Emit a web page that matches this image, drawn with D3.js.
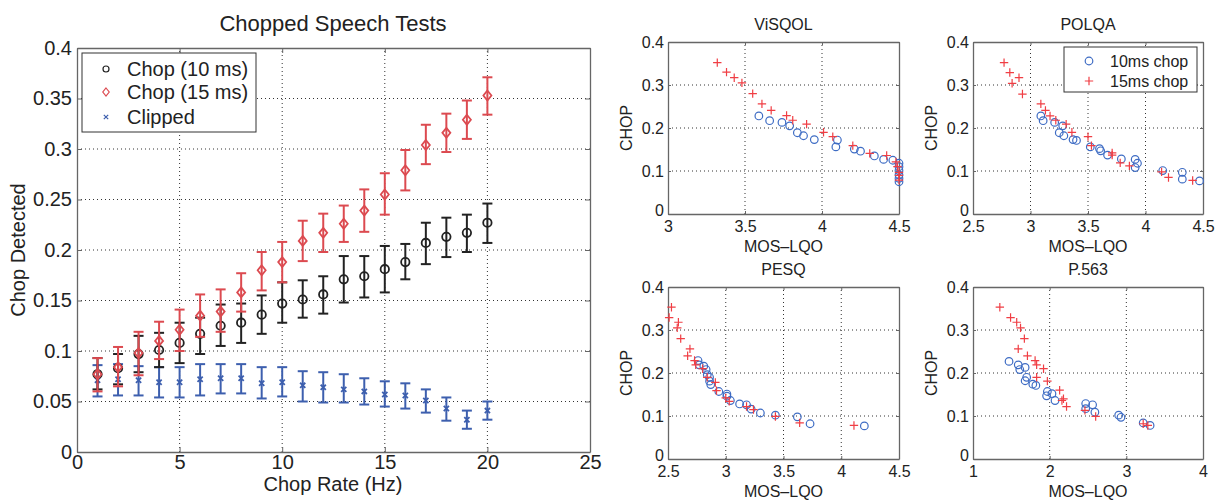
<!DOCTYPE html>
<html><head><meta charset="utf-8">
<script src="https://cdn.jsdelivr.net/npm/d3@7"></script>
<style>
body{margin:0;background:#fff}
text{font-family:"Liberation Sans",Arial,Helvetica,sans-serif;fill:#222}
</style>
</head><body>
<svg id="c" width="1220" height="500"></svg>
<script>
// ---------- main panel data ----------
const chopRate = [1,2,3,4,5,6,7,8,9,10,11,12,13,14,15,16,17,18,19,20];
const chop10   = [0.077,0.083,0.097,0.101,0.108,0.117,0.125,0.128,0.136,0.147,0.151,0.156,0.171,0.174,0.181,0.188,0.207,0.213,0.217,0.227];
const chop10Hi = [0.093,0.097,0.115,0.118,0.128,0.133,0.146,0.147,0.155,0.168,0.170,0.174,0.194,0.194,0.204,0.206,0.227,0.232,0.235,0.246];
const chop10Lo = [0.062,0.067,0.079,0.084,0.088,0.097,0.105,0.108,0.117,0.128,0.133,0.137,0.148,0.153,0.158,0.171,0.186,0.193,0.198,0.207];
const chop15   = [0.077,0.084,0.098,0.110,0.121,0.135,0.139,0.158,0.180,0.188,0.209,0.217,0.226,0.239,0.255,0.279,0.304,0.316,0.329,0.353];
const chop15Hi = [0.093,0.104,0.119,0.129,0.141,0.156,0.161,0.177,0.198,0.208,0.229,0.236,0.244,0.260,0.276,0.299,0.324,0.335,0.348,0.371];
const chop15Lo = [0.060,0.065,0.076,0.092,0.100,0.114,0.119,0.139,0.160,0.168,0.189,0.198,0.208,0.218,0.235,0.259,0.285,0.297,0.310,0.334];
const clipped   = [0.071,0.072,0.071,0.069,0.069,0.072,0.073,0.073,0.068,0.069,0.066,0.064,0.062,0.060,0.057,0.056,0.051,0.043,0.032,0.041];
const clippedHi = [0.086,0.087,0.085,0.084,0.084,0.087,0.087,0.087,0.084,0.084,0.080,0.079,0.077,0.073,0.070,0.068,0.062,0.054,0.041,0.050];
const clippedLo = [0.055,0.056,0.056,0.054,0.054,0.056,0.058,0.058,0.053,0.055,0.050,0.049,0.049,0.047,0.045,0.043,0.039,0.031,0.023,0.032];
const mainXTicks = [0,5,10,15,20,25];
const mainYTicks = [0,0.05,0.1,0.15,0.2,0.25,0.3,0.35,0.4];
const mainLegend = ["Chop (10 ms)","Chop (15 ms)","Clipped"];

// ---------- scatter panels data ----------
const visqolMos10  = [3.59,3.66,3.74,3.79,3.84,3.88,3.95,4.10,4.09,4.21,4.25,4.34,4.40,4.46,4.50,4.50,4.50,4.50,4.50,4.50];
const visqolChop10 = [0.228,0.217,0.213,0.205,0.189,0.182,0.173,0.172,0.156,0.151,0.146,0.135,0.127,0.125,0.118,0.110,0.101,0.091,0.083,0.075];
const visqolMos15  = [3.32,3.38,3.43,3.48,3.55,3.61,3.67,3.77,3.81,3.90,4.01,4.07,4.20,4.31,4.42,4.48,4.49,4.50,4.50,4.50];
const visqolChop15 = [0.352,0.330,0.317,0.305,0.280,0.256,0.241,0.229,0.218,0.209,0.190,0.180,0.159,0.141,0.136,0.121,0.110,0.097,0.090,0.079];

const polqaMos10  = [3.09,3.11,3.21,3.28,3.25,3.29,3.37,3.40,3.52,3.60,3.61,3.67,3.79,3.91,3.93,3.91,4.15,4.32,4.32,4.47];
const polqaChop10 = [0.228,0.217,0.213,0.205,0.189,0.182,0.173,0.171,0.156,0.152,0.147,0.137,0.128,0.127,0.118,0.108,0.101,0.097,0.081,0.077];
const polqaMos15  = [2.77,2.82,2.90,2.84,2.93,3.09,3.13,3.17,3.22,3.31,3.36,3.50,3.53,3.71,3.71,3.78,3.86,4.14,4.20,4.41];
const polqaChop15 = [0.352,0.329,0.317,0.304,0.279,0.256,0.241,0.228,0.218,0.209,0.190,0.180,0.159,0.142,0.137,0.119,0.112,0.098,0.085,0.078];

const pesqMos10  = [2.76,2.77,2.81,2.83,2.84,2.86,2.86,2.87,2.94,3.01,3.01,3.04,3.12,3.18,3.22,3.30,3.43,3.62,3.73,4.20];
const pesqChop10 = [0.229,0.219,0.216,0.208,0.196,0.190,0.181,0.173,0.157,0.151,0.146,0.136,0.128,0.126,0.116,0.107,0.102,0.098,0.082,0.077];
const pesqMos15  = [2.53,2.51,2.59,2.58,2.61,2.69,2.67,2.73,2.74,2.80,2.84,2.91,2.92,3.00,3.03,3.18,3.24,3.43,3.64,4.11];
const pesqChop15 = [0.353,0.329,0.318,0.305,0.280,0.256,0.240,0.229,0.219,0.210,0.190,0.178,0.159,0.142,0.134,0.122,0.115,0.099,0.084,0.078];

const p563Mos10  = [1.47,1.59,1.61,1.68,1.70,1.68,1.78,1.82,1.97,1.96,2.03,2.07,2.47,2.56,2.47,2.59,2.90,2.93,3.22,3.31];
const p563Chop10 = [0.227,0.219,0.208,0.213,0.190,0.182,0.174,0.171,0.157,0.147,0.152,0.136,0.129,0.126,0.117,0.109,0.102,0.097,0.084,0.078];
const p563Mos15  = [1.35,1.49,1.57,1.62,1.67,1.59,1.71,1.81,1.83,1.92,1.83,1.97,2.13,2.16,2.18,2.22,2.46,2.60,3.22,3.28];
const p563Chop15 = [0.353,0.329,0.318,0.305,0.280,0.256,0.240,0.229,0.219,0.210,0.190,0.181,0.160,0.136,0.140,0.122,0.113,0.099,0.082,0.078];

const chopTicks = [0,0.1,0.2,0.3,0.4];
const scatterLegend = ["10ms chop","15ms chop"];

// ---------- drawing ----------
const svg = d3.select("#c");
const GRID = "#333", BOX = "#666";
const C_BLACK = "#222", C_RED = "#dc4a50", C_BLUE = "#3d5fae";
const S_RED = "#f03e44", S_BLUE = "#3e6cc4";

function frame(g, x, y, xt, yt, opt) {
  const [x0,x1] = x.range(), [y0,y1] = y.range();
  g.append("g").selectAll("line").data(xt.filter(v => v!==x.domain()[0] && v!==x.domain()[1])).join("line")
    .attr("x1", d=>x(d)).attr("x2", d=>x(d)).attr("y1", y0).attr("y2", y1)
    .attr("stroke", GRID).attr("stroke-width", 1).attr("stroke-dasharray", "1,3");
  g.append("g").selectAll("line").data(yt.filter(v => v!==y.domain()[0] && v!==y.domain()[1])).join("line")
    .attr("y1", d=>y(d)).attr("y2", d=>y(d)).attr("x1", x0).attr("x2", x1)
    .attr("stroke", GRID).attr("stroke-width", 1).attr("stroke-dasharray", "1,3");
  const ts = opt.tick;
  const style = a => { a.selectAll(".domain").attr("stroke", BOX).attr("stroke-width", 1.3);
    a.selectAll(".tick line").attr("stroke", BOX);
    a.selectAll("text").attr("font-size", opt.fs).attr("fill", "#222").attr("font-family", "Liberation Sans, Arial, sans-serif"); };
  g.append("g").attr("transform", `translate(0,${y0})`)
    .call(d3.axisBottom(x).tickValues(xt).tickSizeInner(-ts).tickSizeOuter(0).tickPadding(opt.xpad).tickFormat(opt.xf)).call(style);
  g.append("g").attr("transform", `translate(0,${y1})`)
    .call(d3.axisTop(x).tickValues(xt).tickSizeInner(-ts).tickSizeOuter(0).tickFormat("")).call(style);
  const ly = g.append("g").attr("transform", `translate(${x0},0)`)
    .call(d3.axisLeft(y).tickValues(yt).tickSizeInner(-ts).tickSizeOuter(0).tickPadding(opt.ypad).tickFormat(opt.yf)).call(style);
  if (opt.zeroLift) ly.selectAll(".tick").filter(d => d === 0).select("text").attr("dy", `${0.32 - opt.zeroLift}em`);
  g.append("g").attr("transform", `translate(${x1},0)`)
    .call(d3.axisRight(y).tickValues(yt).tickSizeInner(-ts).tickSizeOuter(0).tickFormat("")).call(style);
}
const numFmt = d => String(+d.toFixed(2));

// ===== main panel =====
const xM = d3.scaleLinear().domain([0,25]).range([77,590]);
const yM = d3.scaleLinear().domain([0,0.4]).range([452,48]);
const gM = svg.append("g");
frame(gM, xM, yM, mainXTicks, mainYTicks, {tick:5, fs:20, xpad:3, ypad:5, xf:numFmt, yf:numFmt});

gM.append("text").attr("x", 333).attr("y", 31).attr("text-anchor","middle").attr("font-size",22).text("Chopped Speech Tests");
gM.append("text").attr("x", 333).attr("y", 491).attr("text-anchor","middle").attr("font-size",20).text("Chop Rate (Hz)");
gM.append("text").attr("transform", `translate(25,250) rotate(-90)`).attr("text-anchor","middle").attr("font-size",20).text("Chop Detected");

function drawMarker(g, type, px, py, r, color, sw) {
  if (type === "circle") g.append("circle").attr("cx",px).attr("cy",py).attr("r",r).attr("fill","none").attr("stroke",color).attr("stroke-width",sw);
  else if (type === "diamond") g.append("path").attr("d",`M${px},${py-r}L${px+r*0.8},${py}L${px},${py+r}L${px-r*0.8},${py}Z`).attr("fill","none").attr("stroke",color).attr("stroke-width",sw);
  else if (type === "x") g.append("path").attr("d",`M${px-r},${py-r}L${px+r},${py+r}M${px-r},${py+r}L${px+r},${py-r}`).attr("stroke",color).attr("stroke-width",sw);
  else if (type === "plus") g.append("path").attr("d",`M${px-r},${py}L${px+r},${py}M${px},${py-r}L${px},${py+r}`).attr("stroke",color).attr("stroke-width",sw);
}
function errorSeries(g, xs, c, lo, hi, color, marker, msz) {
  const s = g.append("g");
  xs.forEach((xv, i) => {
    const px = xM(xv);
    s.append("line").attr("x1",px).attr("x2",px).attr("y1",yM(lo[i])).attr("y2",yM(hi[i])).attr("stroke",color).attr("stroke-width",2);
    [lo[i], hi[i]].forEach(v => s.append("line").attr("x1",px-5).attr("x2",px+5).attr("y1",yM(v)).attr("y2",yM(v)).attr("stroke",color).attr("stroke-width",2));
    drawMarker(s, marker, px, yM(c[i]), msz, color, 1.8);
  });
}
errorSeries(gM, chopRate, clipped, clippedLo, clippedHi, C_BLUE, "x", 2.6);
errorSeries(gM, chopRate, chop10, chop10Lo, chop10Hi, C_BLACK, "circle", 4.2);
errorSeries(gM, chopRate, chop15, chop15Lo, chop15Hi, C_RED, "diamond", 5);

// main legend
const lg = gM.append("g");
lg.append("rect").attr("x",82).attr("y",53).attr("width",174).attr("height",79).attr("fill","#fff").attr("stroke","#333").attr("stroke-width",1);
const lgMarkers = [["circle",C_BLACK,3],["diamond",C_RED,4],["x",C_BLUE,2.2]];
mainLegend.forEach((t,i) => {
  const yy = [69,92,117][i];
  drawMarker(lg, lgMarkers[i][0], 106, yy, lgMarkers[i][2], lgMarkers[i][1], 1.2);
  lg.append("text").attr("x",127).attr("y",yy).attr("dy","0.36em").attr("font-size",20).text(t);
});

// ===== scatter panels =====
function panel(cfg) {
  const x = d3.scaleLinear().domain(cfg.xd).range([cfg.l, cfg.r]);
  const y = d3.scaleLinear().domain([0,0.4]).range([cfg.b, cfg.t]);
  const g = svg.append("g");
  frame(g, x, y, cfg.xt, chopTicks, {tick:3, fs:16, xpad:7, ypad:4, xf:numFmt, yf:numFmt, zeroLift:0.25});
  const cx = (cfg.l + cfg.r) / 2;
  g.append("text").attr("x",cx).attr("y",cfg.t-12).attr("text-anchor","middle").attr("font-size",16).text(cfg.title);
  g.append("text").attr("x",cx).attr("y",cfg.b+38).attr("text-anchor","middle").attr("font-size",16).text("MOS\u2013LQO");
  g.append("text").attr("transform",`translate(${cfg.l-36},${(cfg.t+cfg.b)/2}) rotate(-90)`).attr("text-anchor","middle").attr("font-size",16).text("CHOP");
  cfg.m10.forEach((m,i) => drawMarker(g, "circle", x(m), y(cfg.c10[i]), 3.8, S_BLUE, 1.2));
  cfg.m15.forEach((m,i) => drawMarker(g, "plus", x(m), y(cfg.c15[i]), 4.2, S_RED, 1.2));
  return g;
}
panel({title:"ViSQOL", l:668, r:899, t:42, b:214, xd:[3,4.5], xt:[3,3.5,4,4.5], m10:visqolMos10, c10:visqolChop10, m15:visqolMos15, c15:visqolChop15});
const gP = panel({title:"POLQA", l:973, r:1203, t:42, b:214, xd:[2.5,4.5], xt:[2.5,3,3.5,4,4.5], m10:polqaMos10, c10:polqaChop10, m15:polqaMos15, c15:polqaChop15});
panel({title:"PESQ", l:668, r:899, t:287, b:459, xd:[2.5,4.5], xt:[2.5,3,3.5,4,4.5], m10:pesqMos10, c10:pesqChop10, m15:pesqMos15, c15:pesqChop15});
panel({title:"P.563", l:973, r:1203, t:287, b:459, xd:[1,4], xt:[1,2,3,4], m10:p563Mos10, c10:p563Chop10, m15:p563Mos15, c15:p563Chop15});

// POLQA legend
const pl = gP.append("g");
pl.append("rect").attr("x",1064).attr("y",47).attr("width",133).attr("height",45).attr("fill","#fff").attr("stroke","#333").attr("stroke-width",1);
scatterLegend.forEach((t,i) => {
  const yy = [61,81][i];
  drawMarker(pl, i===0?"circle":"plus", 1089, yy, i===0?3.8:4.2, i===0?S_BLUE:S_RED, 1.2);
  pl.append("text").attr("x",1110).attr("y",yy).attr("dy","0.36em").attr("font-size",16).text(t);
});
</script>
</body></html>
